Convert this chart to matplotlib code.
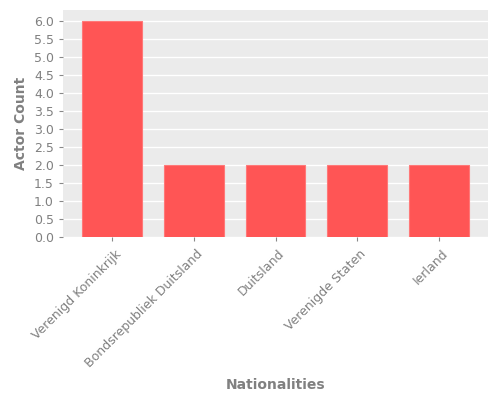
import matplotlib
matplotlib.use("Agg")
import matplotlib.pyplot as plt
from matplotlib.transforms import ScaledTranslation

nationalities = ["Verenigd Koninkrijk", "Bondsrepubliek Duitsland", "Duitsland", "Verenigde Staten", "Ierland"]
actor_counts = [6, 2, 2, 2, 2]

fig = plt.figure(figsize=(5, 4), dpi=100)
ax = fig.add_axes([0.126, 0.4085, 0.85, 0.5665])
ax.set_facecolor("#EBEBEB")
x = list(range(len(nationalities)))
ax.bar(x, actor_counts, width=0.73, color="#FF5555", edgecolor="#FF7878", linewidth=0.8, zorder=3)
ax.set_yticks([i * 0.5 for i in range(13)])
ax.set_xticks(x)
ax.yaxis.grid(True, color="white", linewidth=1.0, zorder=0)
ax.set_axisbelow(True)
for s in ax.spines.values():
    s.set_visible(False)
ax.tick_params(colors="#888888", labelsize=9, length=3, width=0.8, labelcolor="#808080")
ax.tick_params(axis="x", pad=8)
ax.set_xticklabels(nationalities, rotation=45, ha="right", rotation_mode="anchor", va="center")
offset = ScaledTranslation(0.07, 0.0, fig.dpi_scale_trans)
for lbl in ax.get_xticklabels():
    lbl.set_transform(lbl.get_transform() + offset)
ax.set_xlabel("Nationalities", fontsize=10, fontweight="bold", color="#808080", labelpad=6)
ax.set_ylabel("Actor Count", fontsize=10, fontweight="bold", color="#808080")
fig.savefig("out.png", dpi=100)
